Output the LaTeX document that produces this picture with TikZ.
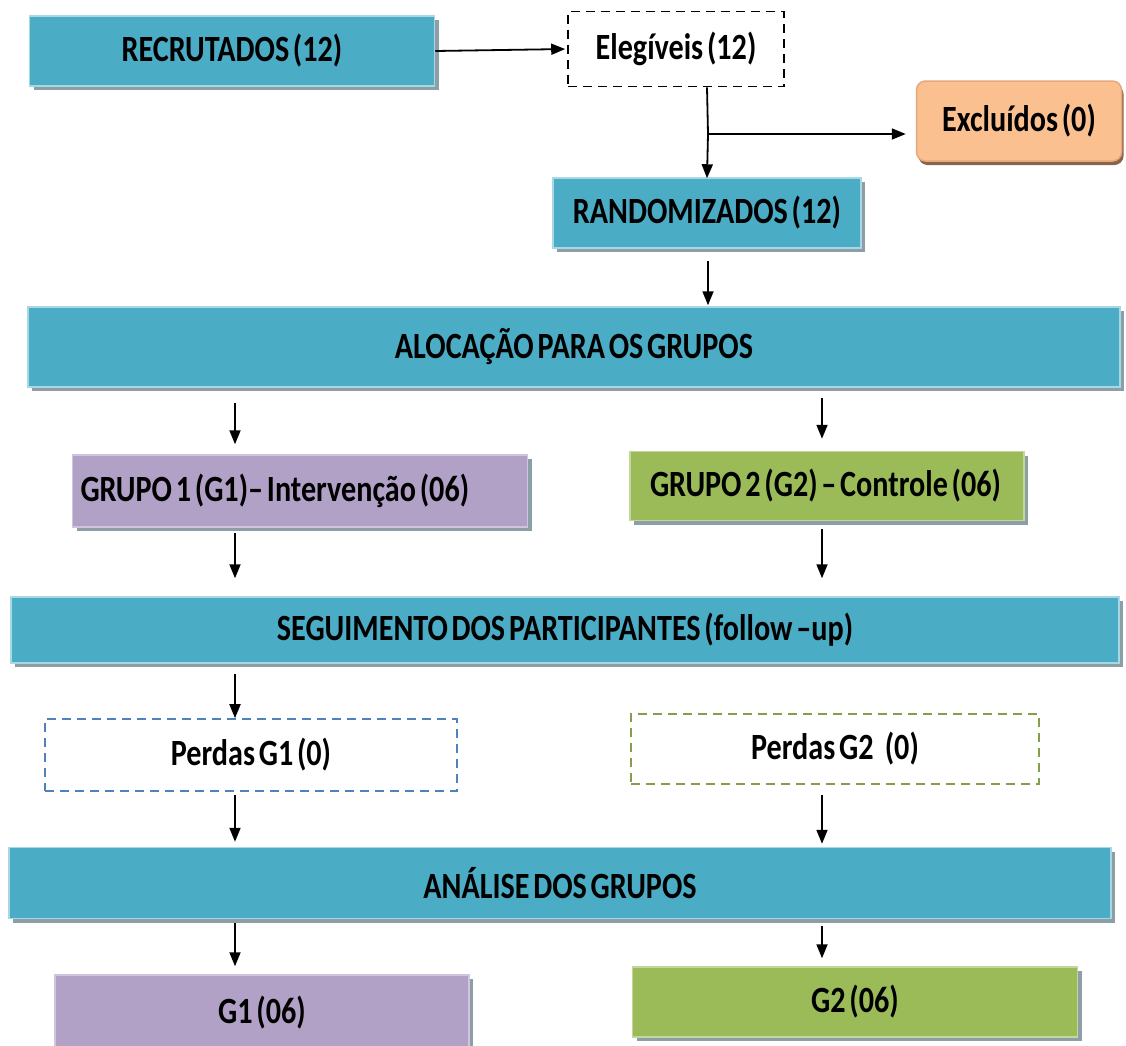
\documentclass[tikz,border=0pt]{standalone}
\usepackage{fontspec}
\setmainfont{Carlito}[FakeStretch=0.815, WordSpace=0.55]
\usetikzlibrary{arrows.meta,shadows}
\definecolor{teal1}{HTML}{4BACC6}
\definecolor{tealb}{HTML}{A9D8E5}
\definecolor{purp}{HTML}{B2A1C7}
\definecolor{purpb}{HTML}{D0C4DE}
\definecolor{olive}{HTML}{9BBB59}
\definecolor{oliveb}{HTML}{C3D69B}
\definecolor{peach}{HTML}{FAC090}
\definecolor{peachb}{HTML}{E6A77C}
\definecolor{shadowc}{HTML}{8C9EA6}
\definecolor{dashblue}{HTML}{4F81BD}
\definecolor{dashgreen}{HTML}{9BBB59}
\tikzset{
  base/.style={inner sep=0pt, font=\fontsize{37}{42}\selectfont\bfseries, text=black},
  filledbox/.style={base, rectangle, line width=1.5pt,
     drop shadow={shadow xshift=4pt, shadow yshift=-4pt, fill=shadowc, opacity=1}},
  tealbox/.style={filledbox, fill=teal1, draw=tealb},
  purpbox/.style={filledbox, fill=purp, draw=purpb},
  olivebox/.style={filledbox, fill=olive, draw=oliveb},
  excbox/.style={base, rectangle, rounded corners=9pt, fill=peach, draw=peachb, line width=1.5pt,
     drop shadow={shadow xshift=2pt, shadow yshift=-4pt, fill=black!40!peachb, opacity=1}},
  dashbox/.style={base, rectangle, fill=white, line width=1.6pt, dash pattern=on 9pt off 6pt},
  arr/.style={line width=1.8pt, -{Triangle[width=11pt,length=14pt]}},
  ln/.style={line width=1.8pt}
}
\begin{document}
\begin{tikzpicture}[x=1pt,y=-1pt]
\useasboundingbox (0,0) rectangle (1126,1045);
\coordinate (L) at (235,0);
\coordinate (R) at (822,0);
% top row
\node[tealbox, minimum width=405pt, minimum height=70pt] (rec) at (232,51) {RECRUTADOS (12)};
\node[dashbox, draw=black, minimum width=216pt, minimum height=75pt] (eleg) at (676,49) {Elegíveis (12)};
\node[excbox, minimum width=205pt, minimum height=80pt] (exc) at (1019,121) {Excluídos (0)};
\node[tealbox, minimum width=308pt, minimum height=70pt] (rand) at (707,213) {RANDOMIZADOS (12)};
\node[tealbox, minimum width=1092pt, minimum height=80pt] (aloc) at (574,347) {ALOCAÇÃO PARA OS GRUPOS};
\node[purpbox, minimum width=455pt, minimum height=72pt] (g1grp) at (300,491) {\makebox[439pt][l]{GRUPO 1 (G1)– Intervenção (06)}};
\node[olivebox, minimum width=394pt, minimum height=69pt] (g2grp) at (827,486) {\makebox[354pt][l]{GRUPO 2 (G2) – Controle (06)}};
\node[tealbox, minimum width=1108pt, minimum height=66pt] (seg) at (565,630) {SEGUIMENTO DOS PARTICIPANTES (follow –up)};
\node[dashbox, draw=dashblue, minimum width=412pt, minimum height=72pt] (p1) at (251,755) {Perdas G1 (0)};
\node[dashbox, draw=dashgreen!85!black, minimum width=408pt, minimum height=70pt] (p2) at (835,749) {Perdas G2 \ \ (0)};
\node[tealbox, minimum width=1102pt, minimum height=71pt] (ana) at (560,883) {ANÁLISE DOS GRUPOS};
\node[purpbox, minimum width=414pt, minimum height=76pt] (g1) at (262,1013) {G1 (06)};
\node[olivebox, minimum width=445pt, minimum height=70pt] (g2) at (855,1002) {G2 (06)};
% connectors
\draw[arr, shorten >=2pt] (rec.east) -- (eleg.west);
\coordinate (br) at (708,134);
\draw[ln] (rand.north |- eleg.south) -- (br);
\draw[arr, shorten >=-1pt] (br) -- (rand.north);
\draw[arr, shorten >=10pt] (br) -- (exc.west |- br);
\draw[arr, shorten <=12pt, shorten >=1pt] (rand.south -| {(708,0)}) -- (aloc.north -| {(708,0)});
\draw[arr, shorten <=15pt, shorten >=10pt] (aloc.south -| L) -- (g1grp.north -| L);
\draw[arr, shorten <=10pt, shorten >=12pt] (aloc.south -| R) -- (g2grp.north -| R);
\draw[arr, shorten <=5pt, shorten >=18pt] (g1grp.south -| L) -- (seg.north -| L);
\draw[arr, shorten <=8pt, shorten >=18pt] (g2grp.south -| R) -- (seg.north -| R);
\draw[arr, shorten <=10pt, shorten >=0pt] (seg.south -| L) -- (p1.north -| L);
\draw[arr, shorten <=3pt, shorten >=5pt] (p1.south -| L) -- (ana.north -| L);
\draw[arr, shorten <=10pt, shorten >=3pt] (p2.south -| R) -- (ana.north -| R);
\draw[arr, shorten <=4pt, shorten >=8pt] (ana.south -| L) -- (g1.north -| L);
\draw[arr, shorten <=7pt, shorten >=8pt] (ana.south -| R) -- (g2.north -| R);
\end{tikzpicture}
\end{document}
